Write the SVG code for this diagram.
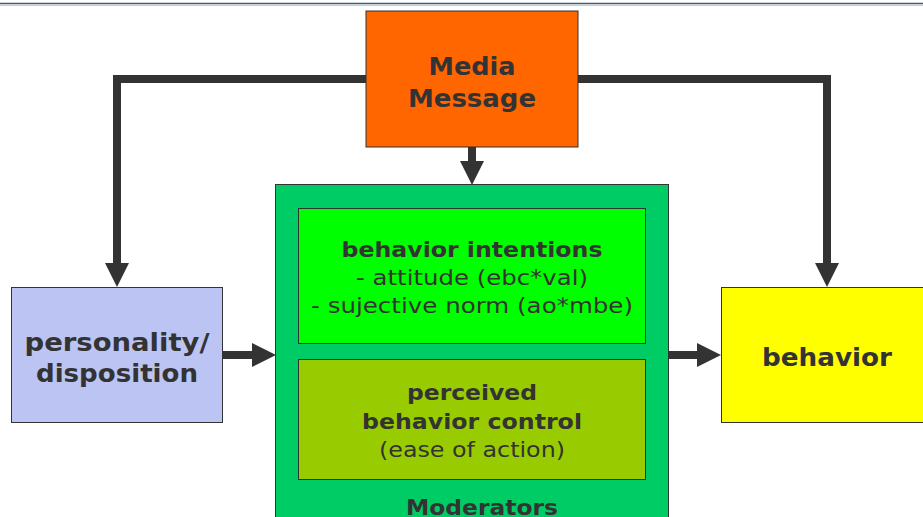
<svg xmlns="http://www.w3.org/2000/svg" width="923" height="517" viewBox="0 0 923 517">
  <style>
    .box { stroke: #333333; stroke-width: 1; }
    .t { font-family: "DejaVu Sans", Verdana, sans-serif; fill: #333333; text-anchor: middle; }
    .b { font-weight: bold; }
    .lg { font-size: 25px; }
    .md { font-size: 22px; }
    .wire { fill: none; stroke: #333333; stroke-width: 8; }
  </style>
  <defs>
    <!-- arrowhead: its base sits at the end of the wire, the tip 24px further on -->
    <marker id="head" markerUnits="userSpaceOnUse" markerWidth="24" markerHeight="24" refX="0" refY="12" orient="auto">
      <path d="M0,0 L24,12 L0,24 Z" fill="#333333"/>
    </marker>
  </defs>

  <rect width="923" height="517" fill="#ffffff"/>
  <!-- header rule -->
  <line x1="0" y1="3.5" x2="923" y2="3.5" stroke="#3a5a80" stroke-width="1.5"/>
  <line x1="0" y1="5.5" x2="923" y2="5.5" stroke="#b8cde0" stroke-width="1"/>

  <g id="connectors">
    <path class="wire" d="M366,79 H117 V263" marker-end="url(#head)"/>
    <path class="wire" d="M578,79 H827 V263" marker-end="url(#head)"/>
    <path class="wire" d="M472,147 V161" marker-end="url(#head)"/>
    <path class="wire" d="M223,355 H252" marker-end="url(#head)"/>
    <path class="wire" d="M669,355 H697" marker-end="url(#head)"/>
  </g>

  <g id="media-message">
    <rect class="box" x="366" y="11" width="212" height="136" fill="#ff6600"/>
    <text class="t b lg" x="472" y="75" textLength="87" lengthAdjust="spacingAndGlyphs">Media</text>
    <text class="t b lg" x="472" y="107" textLength="128" lengthAdjust="spacingAndGlyphs">Message</text>
  </g>

  <g id="moderators">
    <rect class="box" x="275.5" y="184.5" width="393" height="340" fill="#00cc66"/>
    <text class="t b md" x="482" y="515" textLength="152" lengthAdjust="spacingAndGlyphs">Moderators</text>
  </g>

  <g id="behavior-intentions">
    <rect class="box" x="298.5" y="208.5" width="347" height="135" fill="#00ff00"/>
    <text class="t b md" x="472" y="257" textLength="261" lengthAdjust="spacingAndGlyphs">behavior intentions</text>
    <text class="t md" x="472" y="285" textLength="232" lengthAdjust="spacingAndGlyphs">- attitude (ebc*val)</text>
    <text class="t md" x="472" y="313" textLength="322" lengthAdjust="spacingAndGlyphs">- sujective norm (ao*mbe)</text>
  </g>

  <g id="perceived-control">
    <rect class="box" x="298.5" y="359.5" width="347" height="120" fill="#99cc00"/>
    <text class="t b md" x="472" y="400" textLength="130" lengthAdjust="spacingAndGlyphs">perceived</text>
    <text class="t b md" x="472" y="429" textLength="220" lengthAdjust="spacingAndGlyphs">behavior control</text>
    <text class="t md" x="472" y="457" textLength="186" lengthAdjust="spacingAndGlyphs">(ease of action)</text>
  </g>

  <g id="personality">
    <rect class="box" x="11.5" y="287.5" width="211" height="135" fill="#bbc4f2"/>
    <text class="t b lg" x="117" y="351" textLength="185" lengthAdjust="spacingAndGlyphs">personality/</text>
    <text class="t b lg" x="117" y="382" textLength="162" lengthAdjust="spacingAndGlyphs">disposition</text>
  </g>

  <g id="behavior">
    <rect class="box" x="721.5" y="287.5" width="210" height="135" fill="#ffff00"/>
    <text class="t b lg" x="827" y="366" textLength="130" lengthAdjust="spacingAndGlyphs">behavior</text>
  </g>
</svg>
